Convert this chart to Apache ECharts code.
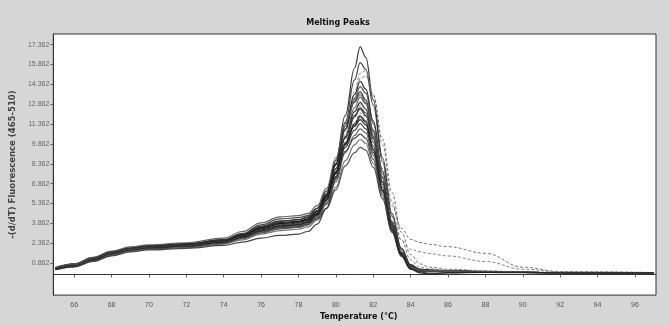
<!DOCTYPE html>
<html>
<head>
<meta charset="utf-8">
<script src="https://cdn.jsdelivr.net/npm/echarts@6/dist/echarts.min.js"></script>
<style>
html,body{margin:0;padding:0;background:#d6d6d6;}
#chart{width:670px;height:326px;}
</style>
</head>
<body>
<div id="chart"></div>
<script>
// Temperature grid (°C)
var temps = [65,66,67,68,69,70,72, 74,75,76,77,78,78.5,79,79.5,80, 80.5,81,81.3,81.6,82,82.5,83,83.5, 84,84.5,85,86,88,90,92,97];
var xTicks = [66,68,70,72,74,76,78,80,82,84,86,88,90,92,94,96];
var yTicks = [0.862,2.362,3.862,5.362,6.862,8.362,9.862,11.362,12.862,14.362,15.862,17.362];

// -(d/dT) Fluorescence (465-510) curves
var c1  = [0.40,0.65,1.10,1.55,1.85,2.00,2.15, 2.45,2.85,3.35,3.65,3.75,3.95,4.6,6.0,8.6, 12.0,15.6,17.2,16.4,13.2,8.8,4.6,2.0, 0.75,0.40,0.33,0.28,0.22,0.16,0.14,0.12];
var c2  = [0.45,0.70,1.15,1.60,1.90,2.05,2.20, 2.50,2.90,3.45,3.80,3.90,4.10,4.7,6.0,8.3, 11.5,14.7,16.0,15.5,12.8,8.5,4.4,1.9, 0.70,0.38,0.32,0.27,0.21,0.16,0.14,0.12];
var c3  = [0.42,0.68,1.12,1.58,1.88,2.04,2.18, 2.48,2.88,3.40,3.75,3.85,4.00,4.5,5.6,7.6, 10.6,13.8,15.2,15.4,13.6,9.8,5.5,2.6, 1.10,0.55,0.42,0.33,0.25,0.18,0.15,0.13];
var c4  = [0.48,0.74,1.20,1.65,1.95,2.10,2.25, 2.55,2.95,3.50,3.85,3.95,4.15,4.8,6.1,8.3, 11.2,13.6,14.6,14.0,11.6,7.8,4.0,1.7, 0.62,0.36,0.32,0.27,0.21,0.16,0.14,0.12];
var c5  = [0.38,0.62,1.05,1.50,1.80,1.96,2.10, 2.40,2.80,3.30,3.60,3.70,3.90,4.5,5.8,8.0, 10.9,13.3,14.2,13.7,11.4,7.6,3.9,1.6, 0.55,0.32,0.30,0.26,0.20,0.16,0.14,0.12];
var c6  = [0.50,0.78,1.25,1.70,2.00,2.15,2.30, 2.60,3.05,3.65,4.05,4.15,4.35,5.0,6.3,8.4, 11.0,13.1,13.8,13.2,10.9,7.3,3.8,1.6, 0.60,0.35,0.31,0.27,0.21,0.16,0.14,0.12];
var c7  = [0.44,0.70,1.14,1.58,1.88,2.02,2.16, 2.45,2.82,3.30,3.62,3.72,3.90,4.4,5.6,7.7, 10.4,12.6,13.4,12.9,10.8,7.3,3.9,1.7, 0.65,0.37,0.32,0.28,0.22,0.16,0.14,0.12];
var c8  = [0.46,0.72,1.18,1.62,1.92,2.06,2.20, 2.50,2.92,3.45,3.80,3.90,4.05,4.6,5.8,7.8, 10.3,12.3,13.0,12.5,10.4,7.0,3.7,1.6, 0.58,0.34,0.30,0.26,0.20,0.16,0.14,0.12];
var c9  = [0.40,0.66,1.10,1.54,1.84,1.98,2.12, 2.42,2.85,3.40,3.78,3.90,4.05,4.5,5.5,7.3, 9.9,12.0,12.8,12.5,10.8,8.0,5.2,3.5, 2.65,2.42,2.28,2.10,1.60,0.55,0.22,0.15];
var c10 = [0.52,0.80,1.28,1.72,2.02,2.18,2.34, 2.65,3.10,3.75,4.20,4.30,4.45,5.0,6.1,8.0, 10.4,12.0,12.5,12.0,10.0,6.8,3.6,1.5, 0.52,0.30,0.28,0.25,0.20,0.16,0.14,0.12];
var c11 = [0.42,0.68,1.12,1.56,1.86,2.00,2.14, 2.42,2.80,3.25,3.55,3.65,3.85,4.3,5.3,7.1, 9.6,11.5,12.2,11.9,10.2,7.4,4.4,2.6, 1.90,1.72,1.58,1.40,0.98,0.40,0.20,0.14];
var c12 = [0.36,0.60,1.02,1.46,1.76,1.92,2.06, 2.34,2.70,3.15,3.45,3.55,3.75,4.3,5.4,7.3, 9.8,11.4,12.0,11.6,9.7,6.6,3.5,1.5, 0.55,0.33,0.30,0.26,0.20,0.16,0.14,0.12];
var c13 = [0.48,0.75,1.22,1.66,1.96,2.12,2.28, 2.58,3.00,3.55,3.92,4.02,4.20,4.8,5.9,7.7, 9.9,11.2,11.7,11.3,9.4,6.4,3.4,1.4, 0.45,0.26,0.25,0.23,0.19,0.15,0.13,0.12];
var c14 = [0.44,0.70,1.15,1.60,1.90,2.05,2.20, 2.48,2.88,3.38,3.70,3.80,3.98,4.5,5.6,7.4, 9.6,10.9,11.4,11.0,9.2,6.3,3.4,1.5, 0.55,0.33,0.30,0.26,0.20,0.16,0.14,0.12];
var c15 = [0.40,0.64,1.08,1.52,1.82,1.96,2.10, 2.36,2.72,3.20,3.50,3.60,3.78,4.3,5.3,7.0, 9.2,10.5,11.0,10.7,9.0,6.2,3.4,1.5, 0.50,0.31,0.29,0.25,0.20,0.16,0.14,0.12];
var c16 = [0.50,0.78,1.24,1.68,1.98,2.14,2.30, 2.60,3.02,3.60,4.00,4.12,4.30,4.8,5.8,7.4, 9.3,10.3,10.6,10.3,8.7,6.0,3.3,1.4, 0.42,0.24,0.24,0.22,0.18,0.15,0.13,0.12];
var c17 = [0.38,0.62,1.04,1.48,1.78,1.92,2.06, 2.30,2.62,3.05,3.32,3.42,3.60,4.1,5.0,6.6, 8.6,9.8,10.2,9.9,8.4,5.8,3.2,1.4, 0.48,0.30,0.28,0.25,0.20,0.16,0.14,0.12];
var c18 = [0.46,0.72,1.16,1.60,1.90,2.04,2.18, 2.44,2.80,3.25,3.55,3.62,3.78,4.2,5.0,6.4, 8.2,9.2,9.6,9.4,8.1,5.7,3.2,1.4, 0.45,0.28,0.27,0.24,0.19,0.15,0.13,0.12];
var c19 = [0.50,0.80,1.30,1.76,2.08,2.24,2.40, 2.75,3.25,3.90,4.35,4.45,4.60,5.2,6.5,8.8, 11.4,13.0,13.6,13.0,10.6,7.0,3.6,1.5, 0.50,0.29,0.27,0.24,0.19,0.15,0.13,0.12];
var c20 = [0.36,0.58,0.98,1.40,1.70,1.85,1.98, 2.20,2.45,2.75,2.95,3.05,3.25,3.8,5.0,7.2, 9.9,11.9,12.6,12.2,10.3,7.0,3.7,1.5, 0.45,0.20,0.10,0.12,0.15,0.14,0.13,0.12];
var c21 = [0.44,0.70,1.14,1.58,1.88,2.02,2.16, 2.46,2.86,3.36,3.70,3.82,3.98,4.4,5.4,7.2, 10.0,13.2,14.8,15.0,13.5,10.2,6.2,3.2, 1.50,0.80,0.55,0.40,0.28,0.18,0.15,0.13];
var c22 = [0.42,0.67,1.11,1.55,1.85,2.00,2.14, 2.42,2.82,3.32,3.66,3.76,3.94,4.5,5.7,7.6, 9.8,11.3,11.9,11.5,9.5,6.4,3.4,1.5, 0.40,0.12,0.05,0.14,0.17,0.15,0.13,0.12];

var curves = [c1,c2,c3,c4,c5,c6,c7,c8,c9,c10,c11,c12,c13,c14,c15,c16,c17,c18,c19,c20,c21,c22];
var colors = ['#222','#333','#777','#111','#444','#222','#555','#1a1a1a','#666','#333','#777','#444','#111','#2a2a2a','#555','#333','#666','#444','#555','#333','#666','#222'];
var dashed = {2:true, 8:true, 10:true, 20:true};

var series = curves.map(function(c, i){
  return {
    type:'line',
    data: temps.map(function(t, j){ return [t, c[j]]; }),
    symbol:'none',
    smooth:0.4,
    smoothMonotone:'x',
    silent:true,
    lineStyle:{color:colors[i], width: dashed[i] ? 1 : 1.2, type: dashed[i] ? [3,2] : 'solid', opacity:0.9}
  };
});

var chart = echarts.init(document.getElementById('chart'), null, {renderer:'canvas'});
chart.setOption({
  backgroundColor:'#d6d6d6',
  animation:false,
  title:{
    text:'Melting Peaks', left:333, top:14, textAlign:'center',
    textStyle:{fontSize:8, fontWeight:'bold', color:'#111', fontFamily:'DejaVu Sans'}
  },
  grid:{left:52, right:14, top:34, bottom:23, show:true, backgroundColor:'#ffffff', borderColor:'#333', borderWidth:1},
  xAxis:{
    type:'value', min:64.88, max:97.13,
    name:'Temperature (°C)', nameLocation:'middle', nameGap:16,
    nameTextStyle:{fontSize:8, fontWeight:'bold', color:'#111', fontFamily:'DejaVu Sans', padding:[0,0,0,8]},
    axisLine:{show:true, lineStyle:{color:'#333'}},
    axisTick:{show:true, length:3, customValues:xTicks, lineStyle:{color:'#666'}},
    axisLabel:{customValues:xTicks, fontSize:7, color:'#555', margin:6, fontFamily:'Liberation Sans'},
    splitLine:{show:false}
  },
  yAxis:{
    type:'value', min:-1.557, max:18.17,
    name:'-(d/dT) Fluorescence (465-510)', nameLocation:'middle', nameGap:31, nameRotate:90,
    nameTextStyle:{fontSize:8.5, fontWeight:'bold', color:'#444', fontFamily:'DejaVu Sans'},
    axisLine:{show:true, lineStyle:{color:'#333'}},
    axisTick:{show:true, length:3, customValues:yTicks, lineStyle:{color:'#666'}},
    axisLabel:{customValues:yTicks, fontSize:7, color:'#666', margin:4, fontFamily:'Liberation Sans',
      formatter:function(v){ return v.toFixed(3); }},
    splitLine:{show:false}
  },
  series:series
});
</script>
</body>
</html>
